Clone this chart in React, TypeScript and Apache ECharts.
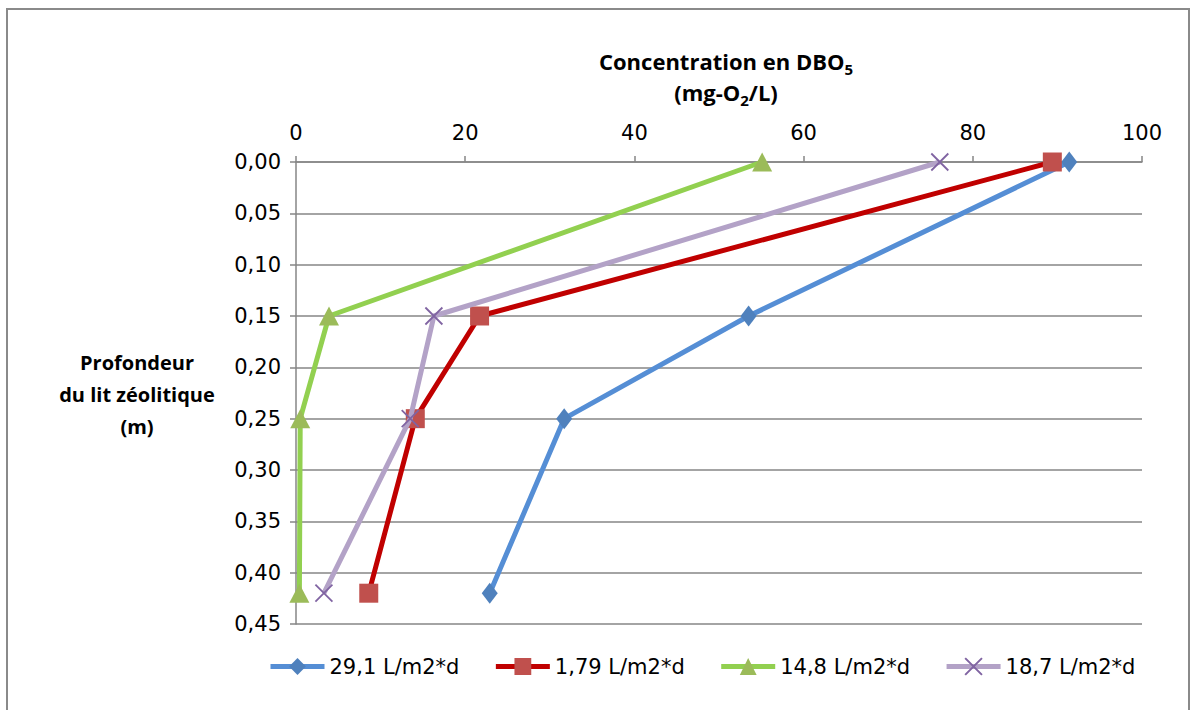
import React, { useEffect, useRef } from "react";
import * as echarts from "echarts";

const depths = [0, 0.15, 0.25, 0.42];
const seriesNames = ["29,1 L/m2*d", "1,79 L/m2*d", "14,8 L/m2*d", "18,7 L/m2*d"];
const blueValues = [91.4, 53.5, 31.7, 22.9];
const redValues = [89.4, 21.7, 14.1, 8.6];
const greenValues = [55.1, 3.9, 0.5, 0.4];
const purpleValues = [76.1, 16.3, 13.5, 3.3];
const xTicks = [0, 20, 40, 60, 80, 100];
const yTicks = [0, 0.05, 0.1, 0.15, 0.2, 0.25, 0.3, 0.35, 0.4, 0.45];

const FONT = "'DejaVu Sans', sans-serif";
const BOLD = "'Open Sans', 'Noto Sans', sans-serif";

export default function App() {
  const ref = useRef<HTMLDivElement>(null);
  useEffect(() => {
    if (!ref.current) return;
    const chart = echarts.init(ref.current, null, { renderer: "svg" });
    const mk = (vals: number[]) => vals.map((v, i) => [v, depths[i]]);
    const cross = "path://M0,0L10,10M10,0L0,10";
    chart.setOption({
      animation: false,
      backgroundColor: "#fff",
      grid: { left: 296, right: 48, top: 162, bottom: 86, containLabel: false },
      xAxis: {
        type: "value",
        position: "top",
        min: xTicks[0],
        max: xTicks[xTicks.length - 1],
        interval: xTicks[1] - xTicks[0],
        axisLine: { show: true, lineStyle: { color: "#868686", width: 1.5 } },
        axisTick: { show: true, length: 6, lineStyle: { color: "#868686", width: 1.5 } },
        splitLine: { show: false },
        axisLabel: { color: "#000", fontSize: 21, fontFamily: FONT, margin: 19 },
      },
      yAxis: {
        type: "value",
        inverse: true,
        min: yTicks[0],
        max: yTicks[yTicks.length - 1],
        interval: 0.05,
        axisLine: { show: true, lineStyle: { color: "#868686", width: 1.5 } },
        axisTick: { show: true, length: 6, lineStyle: { color: "#868686", width: 1.5 } },
        splitLine: { show: true, lineStyle: { color: "#868686", width: 1.5 } },
        axisLabel: {
          color: "#000",
          fontSize: 21,
          fontFamily: FONT,
          margin: 15,
          formatter: (v: number) => v.toFixed(2).replace(".", ","),
        },
      },
      legend: {
        left: 263,
        top: 651,
        itemWidth: 54,
        itemHeight: 21,
        itemGap: 34,
        lineStyle: { width: 5 },
        textStyle: { color: "#000", fontSize: 21, fontFamily: FONT },
        data: seriesNames,
      },
      graphic: [
        {
          type: "rect",
          shape: { x: 7, y: 9, width: 1182, height: 710 },
          style: { fill: "none", stroke: "#8a8a8a", lineWidth: 2 },
          silent: true,
        },
        {
          type: "text",
          x: 726,
          y: 76,
          style: {
            text: "{b|Concentration en DBO}{s|5}\n{b|(mg-O}{s|2}{b|/L)}",
            align: "center",
            verticalAlign: "middle",
            rich: {
              b: { fontSize: 22, fontWeight: "bold", fontFamily: BOLD, fill: "#000", lineHeight: 31 },
              s: { fontSize: 15, fontWeight: "bold", fontFamily: BOLD, fill: "#000", lineHeight: 21, verticalAlign: "bottom" },
            },
          },
        },
        {
          type: "text",
          x: 137,
          y: 394,
          style: {
            text: "Profondeur\ndu lit zéolitique\n(m)",
            align: "center",
            verticalAlign: "middle",
            lineHeight: 32,
            fontSize: 20,
            fontWeight: "bold",
            fontFamily: BOLD,
            fill: "#000",
          },
        },
      ],
      series: [
        {
          name: seriesNames[0],
          type: "line",
          data: mk(blueValues),
          lineStyle: { color: "#558ED5", width: 5 },
          itemStyle: { color: "#4F81BD" },
          symbol: "diamond",
          symbolSize: [16, 21],
          z: 2,
        },
        {
          name: seriesNames[1],
          type: "line",
          data: mk(redValues),
          lineStyle: { color: "#C00000", width: 5 },
          itemStyle: { color: "#C0504D" },
          symbol: "rect",
          symbolSize: 19,
          z: 3,
        },
        {
          name: seriesNames[2],
          type: "line",
          data: mk(greenValues),
          lineStyle: { color: "#92D050", width: 5 },
          itemStyle: { color: "#9BBB59" },
          symbol: "triangle",
          symbolSize: [20, 19],
          z: 4,
        },
        {
          name: seriesNames[3],
          type: "line",
          data: mk(purpleValues),
          lineStyle: { color: "#B3A2C7", width: 5 },
          itemStyle: { color: "rgba(0,0,0,0)", borderColor: "#8064A2", borderWidth: 1.8 },
          symbol: cross,
          symbolSize: 17,
          z: 5,
        },
      ],
    });
    return () => chart.dispose();
  }, []);
  return (
    <div
      ref={ref}
      style={{ position: "fixed", left: 0, top: 0, width: 1190, height: 710 }}
    />
  );
}
